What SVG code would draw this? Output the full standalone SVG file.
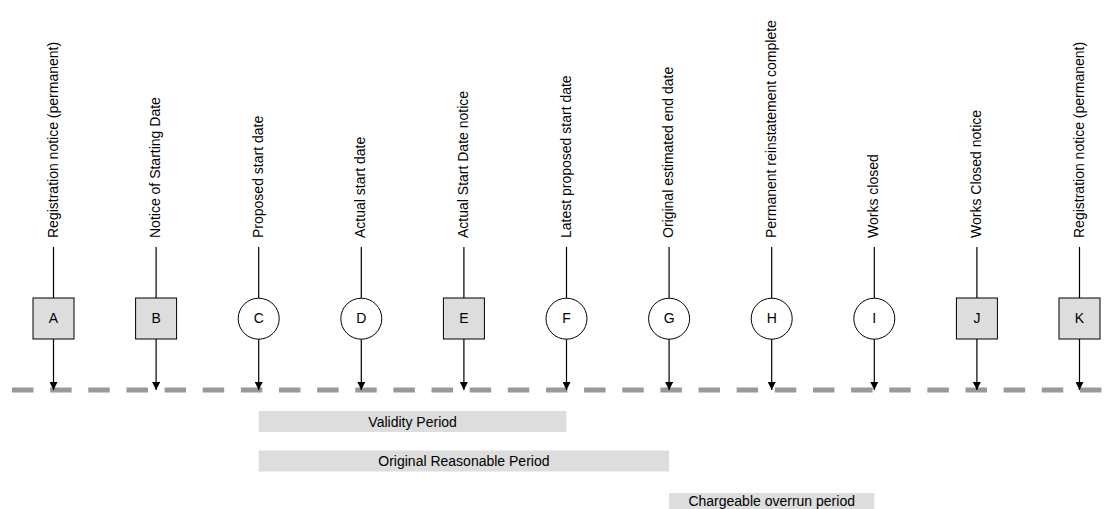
<svg xmlns="http://www.w3.org/2000/svg" width="1114" height="509" viewBox="0 0 1114 509">
  <style>
    text { font-family: "Liberation Sans", Arial, sans-serif; font-size: 14px; fill: #000; }
    .lbl { text-anchor: start; }
    .mid { text-anchor: middle; }
    .box { fill: #dddddd; stroke: #000; stroke-width: 1; }
    .ring { fill: #fff; stroke: #000; stroke-width: 1; }
    .stem { stroke: #000; stroke-width: 1.2; fill: none; }
    .arrow { stroke: #000; stroke-width: 1.2; fill: none; marker-end: url(#head); }
    .axis { stroke: #999; stroke-width: 5; stroke-dasharray: 21.5 16.64; fill: none; }
    .bar { fill: #dddddd; }
  </style>
  <defs>
    <marker id="head" viewBox="0 0 10 10" refX="10" refY="5" markerWidth="8" markerHeight="8" markerUnits="userSpaceOnUse" orient="auto">
      <path d="M0,0 L10,5 L0,10 z" fill="#000"/>
    </marker>
  </defs>

  <!-- timeline axis -->
  <line id="axis" class="axis" x1="12" y1="390" x2="1103" y2="390"/>

  <!-- connectors: label stems and arrows to the axis -->
  <g id="connectors">
    <line class="stem" x1="53.5" y1="247" x2="53.5" y2="298"/>
    <line class="arrow" x1="53.5" y1="339" x2="53.5" y2="390"/>
    <line class="stem" x1="156.1" y1="247" x2="156.1" y2="298"/>
    <line class="arrow" x1="156.1" y1="339" x2="156.1" y2="390"/>
    <line class="stem" x1="258.7" y1="247" x2="258.7" y2="298"/>
    <line class="arrow" x1="258.7" y1="339" x2="258.7" y2="390"/>
    <line class="stem" x1="361.3" y1="247" x2="361.3" y2="298"/>
    <line class="arrow" x1="361.3" y1="339" x2="361.3" y2="390"/>
    <line class="stem" x1="463.9" y1="247" x2="463.9" y2="298"/>
    <line class="arrow" x1="463.9" y1="339" x2="463.9" y2="390"/>
    <line class="stem" x1="566.5" y1="247" x2="566.5" y2="298"/>
    <line class="arrow" x1="566.5" y1="339" x2="566.5" y2="390"/>
    <line class="stem" x1="669.1" y1="247" x2="669.1" y2="298"/>
    <line class="arrow" x1="669.1" y1="339" x2="669.1" y2="390"/>
    <line class="stem" x1="771.7" y1="247" x2="771.7" y2="298"/>
    <line class="arrow" x1="771.7" y1="339" x2="771.7" y2="390"/>
    <line class="stem" x1="874.3" y1="247" x2="874.3" y2="298"/>
    <line class="arrow" x1="874.3" y1="339" x2="874.3" y2="390"/>
    <line class="stem" x1="976.9" y1="247" x2="976.9" y2="298"/>
    <line class="arrow" x1="976.9" y1="339" x2="976.9" y2="390"/>
    <line class="stem" x1="1079.5" y1="247" x2="1079.5" y2="298"/>
    <line class="arrow" x1="1079.5" y1="339" x2="1079.5" y2="390"/>
  </g>

  <!-- events: notices are squares, dates are circles -->
  <g id="A">
    <rect class="box" x="33" y="298" width="41" height="41"/>
    <text class="mid" x="53.5" y="323">A</text>
    <text class="lbl" transform="translate(57.5,238) rotate(-90)">Registration notice (permanent)</text>
  </g>
  <g id="B">
    <rect class="box" x="135.6" y="298" width="41" height="41"/>
    <text class="mid" x="156.1" y="323">B</text>
    <text class="lbl" transform="translate(160.1,238) rotate(-90)">Notice of Starting Date</text>
  </g>
  <g id="C">
    <circle class="ring" cx="258.7" cy="318.7" r="20.5"/>
    <text class="mid" x="258.7" y="323">C</text>
    <text class="lbl" transform="translate(262.7,238) rotate(-90)">Proposed start date</text>
  </g>
  <g id="D">
    <circle class="ring" cx="361.3" cy="318.7" r="20.5"/>
    <text class="mid" x="361.3" y="323">D</text>
    <text class="lbl" transform="translate(365.3,238) rotate(-90)">Actual start date</text>
  </g>
  <g id="E">
    <rect class="box" x="443.4" y="298" width="41" height="41"/>
    <text class="mid" x="463.9" y="323">E</text>
    <text class="lbl" transform="translate(467.9,238) rotate(-90)">Actual Start Date notice</text>
  </g>
  <g id="F">
    <circle class="ring" cx="566.5" cy="318.7" r="20.5"/>
    <text class="mid" x="566.5" y="323">F</text>
    <text class="lbl" transform="translate(570.5,238) rotate(-90)">Latest proposed start date</text>
  </g>
  <g id="G">
    <circle class="ring" cx="669.1" cy="318.7" r="20.5"/>
    <text class="mid" x="669.1" y="323">G</text>
    <text class="lbl" transform="translate(673.1,238) rotate(-90)">Original estimated end date</text>
  </g>
  <g id="H">
    <circle class="ring" cx="771.7" cy="318.7" r="20.5"/>
    <text class="mid" x="771.7" y="323">H</text>
    <text class="lbl" transform="translate(775.7,238) rotate(-90)">Permanent reinstatement complete</text>
  </g>
  <g id="I">
    <circle class="ring" cx="874.3" cy="318.7" r="20.5"/>
    <text class="mid" x="874.3" y="323">I</text>
    <text class="lbl" transform="translate(878.3,238) rotate(-90)">Works closed</text>
  </g>
  <g id="J">
    <rect class="box" x="956.4" y="298" width="41" height="41"/>
    <text class="mid" x="976.9" y="323">J</text>
    <text class="lbl" transform="translate(980.9,238) rotate(-90)">Works Closed notice</text>
  </g>
  <g id="K">
    <rect class="box" x="1059" y="298" width="41" height="41"/>
    <text class="mid" x="1079.5" y="323">K</text>
    <text class="lbl" transform="translate(1083.5,238) rotate(-90)">Registration notice (permanent)</text>
  </g>

  <!-- periods -->
  <g id="validity">
    <rect class="bar" x="258.7" y="411" width="307.8" height="21"/>
    <text class="mid" x="412.6" y="426.5">Validity Period</text>
  </g>
  <g id="reasonable">
    <rect class="bar" x="258.7" y="450.5" width="410.4" height="21"/>
    <text class="mid" x="463.9" y="466">Original Reasonable Period</text>
  </g>
  <g id="overrun">
    <rect class="bar" x="669.1" y="493" width="205.2" height="16"/>
    <text class="mid" x="771.7" y="505.5">Chargeable overrun period</text>
  </g>
</svg>
